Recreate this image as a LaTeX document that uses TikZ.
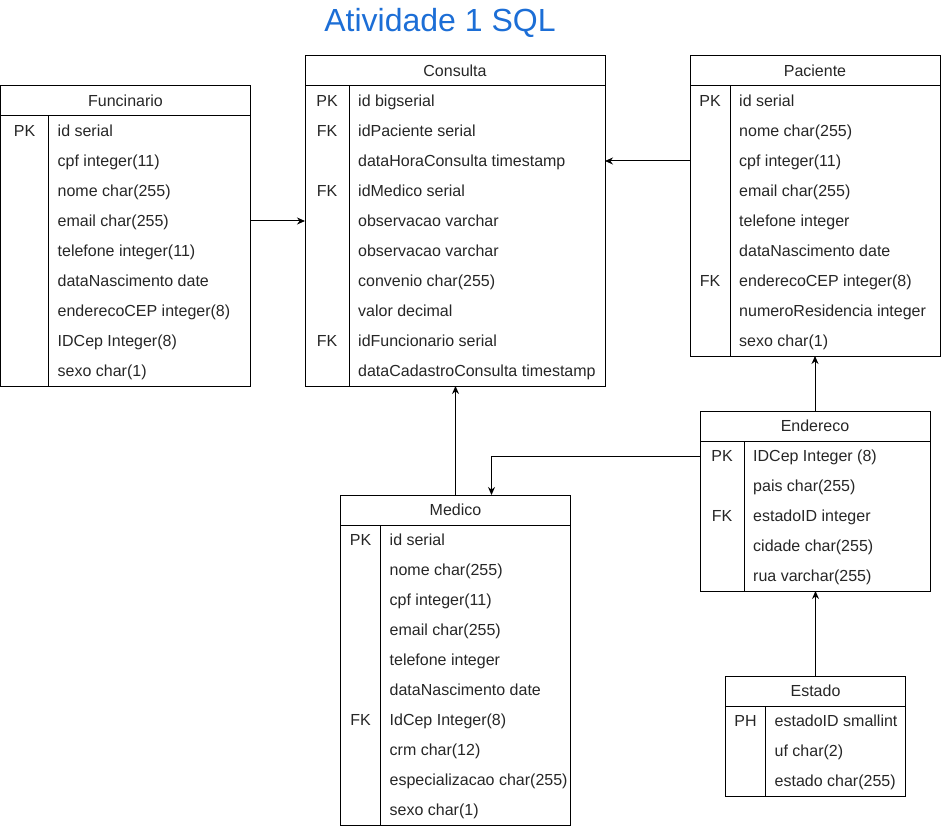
\documentclass[tikz,border=0pt]{standalone}
\usepackage{fontspec}
\setmainfont{Liberation Sans}
\usetikzlibrary{arrows.meta}
\definecolor{titleblue}{HTML}{1C6ED6}
\definecolor{inkc}{HTML}{000000}
\tikzset{
  tbl/.style={draw=inkc, line width=1pt, anchor=north west, inner sep=0pt, outer sep=0pt},
  rowtxt/.style={anchor=base west, inner sep=0pt, text=black!85, font=\fontsize{16}{19}\selectfont},
  keytxt/.style={anchor=base, inner sep=0pt, text=black!85, font=\fontsize{16}{19}\selectfont},
  hdr/.style={anchor=base, inner sep=0pt, text=black!85, font=\fontsize{16}{19}\selectfont},
  sep/.style={draw=inkc, line width=1pt},
  conn/.style={draw=inkc, line width=1pt, -{Stealth[length=8pt,width=7pt]}},
}
% #1 name, #2 left x, #3 top y, #4 width, #5 key width, #6 rows, #7 title, #8 rows list
\newcommand\ertable[8]{%
  \pgfmathsetmacro\erh{30*(#6+1)}%
  \node[tbl, minimum width=#4pt, minimum height=\erh pt] (#1) at (#2,#3) {};
  \node[hdr] (#1-title) at (#2+#4/2, #3+20.5) {#7};
  \draw[sep] (#2,#3+30) -- (#2+#4,#3+30);
  \draw[sep] (#2+#5,#3+30) -- (#2+#5,#3+\erh);
  \foreach \k/\t [count=\i] in {#8} {
    \node[keytxt] (#1-k\i) at (#2+#5/2, #3+30*\i+20.5) {\k};
    \node[rowtxt] (#1-f\i) at (#2+#5+9, #3+30*\i+20.5) {\t};
  }%
}
\begin{document}
\begin{tikzpicture}[x=1pt,y=-1pt]
\useasboundingbox (0,0) rectangle (942,826);
\node[anchor=base, inner sep=0pt, text=titleblue, font=\fontsize{32}{38}\selectfont] (title) at (440,32) {Atividade 1 SQL};

\ertable{func}{0.5}{86}{250}{48}{9}{Funcinario}{PK/id serial,/cpf integer(11),/nome char(255),/email char(255),/telefone integer(11),/dataNascimento date,/enderecoCEP integer(8),/IDCep Integer(8),/sexo char(1)}

\ertable{cons}{305}{56}{300}{44}{10}{Consulta}{PK/id bigserial,FK/idPaciente serial,/dataHoraConsulta timestamp,FK/idMedico serial,/observacao varchar,/observacao varchar,/convenio char(255),/valor decimal,FK/idFuncionario serial,/dataCadastroConsulta timestamp}

\ertable{pac}{690}{56}{250}{40}{9}{Paciente}{PK/id serial,/nome char(255),/cpf integer(11),/email char(255),/telefone integer,/dataNascimento date,FK/enderecoCEP integer(8),/numeroResidencia integer,/sexo char(1)}

\ertable{end}{700}{411}{230}{44}{5}{Endereco}{PK/IDCep Integer (8),/pais char(255),FK/estadoID integer,/cidade char(255),/rua varchar(255)}

\ertable{med}{340.5}{495}{230}{40}{10}{Medico}{PK/id serial,/nome char(255),/cpf integer(11),/email char(255),/telefone integer,/dataNascimento date,FK/IdCep Integer(8),/crm char(12),/especializacao char(255),/sexo char(1)}

\ertable{est}{725.5}{676}{180}{40}{3}{Estado}{PH/estadoID smallint,/uf char(2),/estado char(255)}

\draw[conn] ([yshift=15pt]func.east) -- ([yshift=15pt]func.east -| cons.west);
\draw[conn] ([yshift=45pt]pac.west) -- ([yshift=45pt]pac.west -| cons.east);
\draw[conn] (med.north) -- (med.north |- cons.south);
\draw[conn] ([yshift=45pt]end.west) -| ([xshift=36pt]med.north);
\draw[conn] (end.north) -- (end.north |- pac.south);
\draw[conn] (est.north) -- (est.north |- end.south);
\end{tikzpicture}
\end{document}
